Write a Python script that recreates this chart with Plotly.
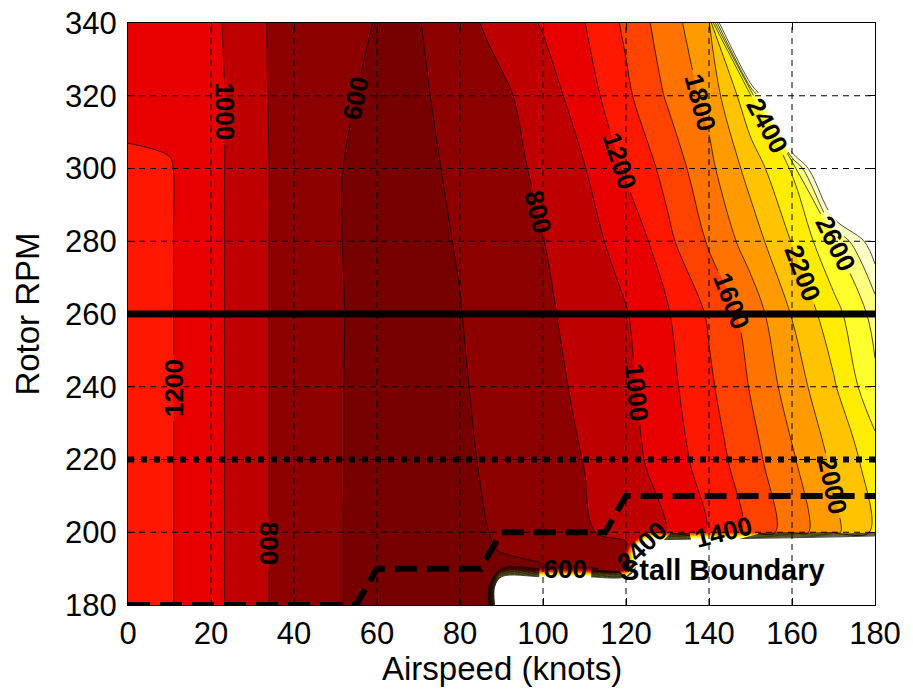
import plotly.graph_objects as go

# ---------------- data ----------------
airspeed = [0, 10, 20, 30, 40, 50, 60, 70, 80, 87, 90, 100, 110, 120, 125, 130, 140, 150, 160, 170, 180]
rotor_rpm = [180, 185, 190, 195, 200, 220, 240, 260, 280, 300, 320, 340]

S = 6000  # stall region (power off the scale -> white)
power_180 = [1270, 1214, 1076, 846, 731, 610, 555, 535, 525, 540, S, S, S, S, S, S, S, S, S, S, S]
power_185 = [1270, 1214, 1076, 846, 731, 610, 555, 535, 530, 550, S, S, S, S, S, S, S, S, S, S, S]
power_190 = [1270, 1214, 1076, 846, 731, 610, 555, 540, 545, 560, 565, 580, 590, 620, S, S, S, S, S, S, S]
power_195 = [1270, 1214, 1076, 846, 731, 610, 555, 540, 555, 590, 605, 640, 680, 720, S, S, S, S, S, S, S]
power_200 = [1270, 1214, 1076, 846, 731, 610, 555, 540, 560, 600, 620, 695, 772, 880, 940, 1005, 1220, 1450, 1700, 1950, 2240]
power_220 = [1270, 1214, 1076, 846, 731, 610, 560, 545, 575, 618, 642, 721, 805, 933, 1010, 1095, 1295, 1525, 1775, 2040, 2300]
power_240 = [1265, 1214, 1076, 846, 731, 610, 560, 550, 585, 633, 658, 742, 838, 963, 1040, 1140, 1365, 1613, 1892, 2173, 2555]
power_260 = [1255, 1214, 1076, 846, 731, 610, 565, 556, 596, 652, 678, 765, 871, 988, 1080, 1180, 1425, 1686, 2010, 2320, 2670]
power_280 = [1235, 1213, 1076, 846, 731, 610, 550, 560, 609, 674, 702, 795, 923, 1084, 1189, 1350, 1625, 1892, 2210, 2580, 3150]
power_300 = [1208, 1212, 1076, 846, 731, 610, 555, 555, 638, 703, 731, 841, 992, 1224, 1341, 1469, 1747, 2077, 2420, 3900, 5000]
power_320 = [1185, 1140, 1081, 836, 738, 640, 560, 575, 663, 732, 761, 900, 1104, 1358, 1490, 1623, 1861, 2360, 5000, 5000, 5000]
power_340 = [1170, 1120, 1062, 824, 754, 683, 590, 590, 735, 829, 871, 1018, 1195, 1439, 1578, 1706, 1964, 6100, 6000, 6000, 6000]

power_grid = [power_180, power_185, power_190, power_195, power_200, power_220,
              power_240, power_260, power_280, power_300, power_320, power_340]

# contour levels
level_start, level_end, level_step = 400, 3000, 200

# band colours (below first level ... above last level), MATLAB "hot"-like
band_colors = [
    "rgb(100,0,0)", "rgb(118,0,0)", "rgb(140,0,0)", "rgb(190,0,0)", "rgb(232,0,0)",
    "rgb(255,24,0)", "rgb(255,66,0)", "rgb(255,115,0)", "rgb(255,155,0)", "rgb(255,195,0)",
    "rgb(255,236,0)", "rgb(255,255,45)", "rgb(255,255,128)", "rgb(255,255,200)", "rgb(255,255,255)",
]

# reference lines
nominal_rpm = 260
min_rpm = 220
stall_airspeed = [0, 55, 60, 85, 90, 115, 120, 180]
stall_rpm = [180, 180, 190, 190, 200, 200, 210, 210]
stall_label = "Stall Boundary"
stall_label_pos = (118, 189.5)

x_ticks = [0, 20, 40, 60, 80, 100, 120, 140, 160, 180]
y_ticks = [180, 200, 220, 240, 260, 280, 300, 320, 340]
x_range = [0, 180]
y_range = [180, 340]
x_title = "Airspeed (knots)"
y_title = "Rotor RPM"

# ---------------- figure ----------------
FONT = "Liberation Sans, Arial, Helvetica, sans-serif"
n = len(band_colors) - 1
colorscale = [[i / n, c] for i, c in enumerate(band_colors)]

fig = go.Figure()
fig.add_trace(go.Contour(
    x=airspeed, y=rotor_rpm, z=power_grid,
    colorscale=colorscale, showscale=False,
    autocontour=False,
    contours=dict(start=level_start, end=level_end, size=level_step,
                  coloring="fill", showlabels=True,
                  labelfont=dict(family=FONT, size=26, color="black", weight="bold"),
                  labelformat="d"),
    line=dict(color="black", width=0.7),
    hoverinfo="skip",
))

fig.add_trace(go.Scatter(x=x_range, y=[nominal_rpm, nominal_rpm], mode="lines",
                         line=dict(color="black", width=7), hoverinfo="skip"))
fig.add_trace(go.Scatter(x=x_range, y=[min_rpm, min_rpm], mode="lines",
                         line=dict(color="black", width=6, dash="6px,7px"), hoverinfo="skip"))
fig.add_trace(go.Scatter(x=stall_airspeed, y=stall_rpm, mode="lines",
                         line=dict(color="black", width=6, dash="22px,10px"), hoverinfo="skip",
                         cliponaxis=False))

shapes = []
for xv in x_ticks[1:-1]:
    shapes.append(dict(type="line", xref="x", yref="paper", x0=xv, x1=xv, y0=0, y1=1,
                       line=dict(color="black", width=1, dash="6px,5px"), layer="above"))
for yv in y_ticks[1:-1]:
    shapes.append(dict(type="line", xref="paper", yref="y", x0=0, x1=1, y0=yv, y1=yv,
                       line=dict(color="black", width=1, dash="6px,5px"), layer="above"))

fig.add_annotation(x=stall_label_pos[0], y=stall_label_pos[1], text="<b>%s</b>" % stall_label,
                   showarrow=False, xanchor="left", yanchor="middle",
                   font=dict(family=FONT, size=29, color="black"))

# x-axis title placed as annotation for exact vertical position
fig.add_annotation(x=0.5, y=0, xref="paper", yref="paper", text=x_title,
                   showarrow=False, xanchor="center", yanchor="top", yshift=-43,
                   font=dict(family=FONT, size=33, color="black"))

axis_common = dict(showline=True, linecolor="black", linewidth=1, mirror="allticks",
                   ticks="inside", ticklen=7, tickcolor="black", showgrid=False, zeroline=False,
                   automargin=False,
                   tickfont=dict(family=FONT, size=31, color="black"))

fig.update_layout(
    width=913, height=698,
    margin=dict(l=128, r=38, t=23, b=93),
    paper_bgcolor="white", plot_bgcolor="white",
    showlegend=False,
    shapes=shapes,
    xaxis=dict(range=x_range, tickvals=x_ticks, ticklabelstandoff=1, **axis_common),
    yaxis=dict(range=y_range, tickvals=y_ticks, ticklabelstandoff=4,
               title=dict(text=y_title, font=dict(family=FONT, size=33, color="black"),
                          standoff=15),
               **axis_common),
)

fig.write_html("out.html", config={"displayModeBar": False},
               post_script="document.body.style.margin='0px';document.body.style.overflow='hidden';")
